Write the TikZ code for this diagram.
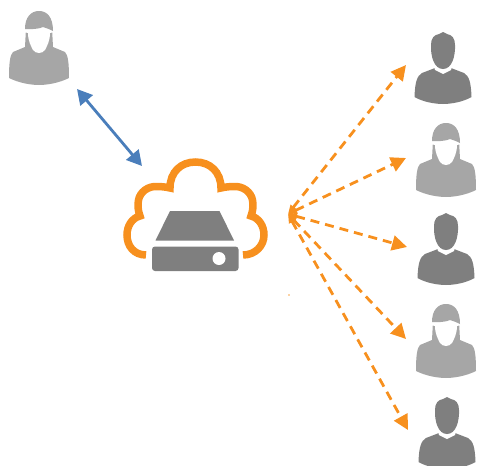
\documentclass[tikz,border=0pt]{standalone}
\usetikzlibrary{arrows.meta}
\definecolor{cloudorange}{HTML}{F7901E}
\definecolor{linkblue}{HTML}{4A7EBB}
\definecolor{mangray}{HTML}{7F7F7F}
\definecolor{womangray}{HTML}{A6A6A6}
\tikzset{
	sendline/.style={line width=2.8pt, color=cloudorange, dash pattern=on 9pt off 6pt, {Triangle[length=9pt,width=7pt]}-{Triangle[length=15pt,width=15pt]}},
	backline/.style={line width=2.8pt, color=linkblue, {Triangle[length=15pt,width=16pt]}-{Triangle[length=15pt,width=16pt]}},
}
\def\drawman(#1){
	\begin{scope}[shift={(#1)}]
		\fill[mangray] (-8,36) -- (-21,41) .. controls (-26,44) and (-28,50) .. (-28.5,65) .. controls (-20,70) and (-8,72) .. (0,72) .. controls (8,72) and (20,70) .. (28.5,65) .. controls (28,50) and (26,44) .. (21,41) -- (8,36) -- cycle;
		\fill[white] (-10,31) -- (10,31) -- (8,38) -- (0,42) -- (-8,38) -- cycle;
		\fill[mangray] (0,0) -- (-4,2) .. controls (-9,3) and (-12,6) .. (-12,13) .. controls (-12.5,24) and (-9,37) .. (0,37) .. controls (9,37) and (12.5,24) .. (12,13) .. controls (12,6) and (9,3) .. (4,2) -- cycle;
	\end{scope}
}
\def\drawwoman(#1){
	\begin{scope}[shift={(#1)}]
		\fill[womangray] (-13,17) -- (-14,36) -- (-26,41) .. controls (-29,44) and (-30,52) .. (-30,67) .. controls (-20,72) and (-8,74) .. (0,74) .. controls (8,74) and (20,72) .. (30,67) .. controls (30,52) and (29,44) .. (26,41) -- (14,36) -- (13,17) -- cycle;
		\fill[white] (-15,17) -- (15,17) -- (15,21) -- (11,22) .. controls (11,30) and (8,35) .. (6,39) .. controls (3,43) and (-3,43) .. (-6,39) .. controls (-8,35) and (-11,30) .. (-11,22) -- (-15,21) -- cycle;
		\fill[womangray] (-14,18) .. controls (-14,6) and (-8,0) .. (0,0) .. controls (8,0) and (14,6) .. (14,20) .. controls (10,18) and (7,17) .. (4,16) .. controls (0,18) and (-8,18.5) .. (-14,18) -- cycle;
	\end{scope}
}

\begin{document}
\begin{tikzpicture}[x=1pt, y=-1pt]
		%%%%% START %%%%%
		\useasboundingbox (0, 0) rectangle (477, 466);
		
		\drawwoman(39, 11);
		\drawman(443, 32);
		\drawwoman(446, 123);
		\drawman(446, 213);
		\drawwoman(446, 304);
		\drawman(447, 397);
		
		% cloud
		\draw[line width=7.5pt, color=cloudorange] (146, 255) .. controls (134, 255) and (127, 246) .. (127, 235) .. controls (127, 226) and (132, 218) .. (140, 216) .. controls (138, 211) and (137.5, 205) .. (138.5, 200) .. controls (140, 192) and (148, 186) .. (157, 186.5) .. controls (161, 186.5) and (166, 187) .. (170, 188) .. controls (170, 172) and (181, 162) .. (195.5, 162) .. controls (210, 162) and (221, 172) .. (221, 188) .. controls (225, 187) and (230, 186.5) .. (234, 186.5) .. controls (243, 186) and (251, 192) .. (252.5, 200) .. controls (253.5, 205) and (253, 211) .. (251, 216) .. controls (259, 218) and (264, 226) .. (264, 235) .. controls (264, 246) and (255, 255) .. (243, 255);
		
		% drive
		\fill[mangray] (170, 211) -- (219.5, 211) -- (234, 240.5) -- (155.5, 240.5) -- cycle;
		\fill[mangray, rounded corners=3pt] (152, 246.5) rectangle (238.5, 271);
		\fill[white] (219, 258.5) circle (6.5);
		
		% connectors
		\coordinate (userleft) at (77, 89);
		\coordinate (cloudin) at (142, 166);
		\draw[backline] (userleft) -- (cloudin);
		
		\coordinate (hub) at (288, 214);
		\coordinate (tipa) at (406, 65);
		\coordinate (tipb) at (406, 158);
		\coordinate (tipc) at (407, 247);
		\coordinate (tipd) at (406, 339);
		\coordinate (tipe) at (408, 430);
		\foreach \tip in {tipa, tipb, tipc, tipd, tipe}
			\draw[sendline] (hub) -- (\tip);
		
		\fill[cloudorange!40] (288, 294) rectangle (290, 296);
		%%%%% END %%%%%
	\end{tikzpicture}
\end{document}
